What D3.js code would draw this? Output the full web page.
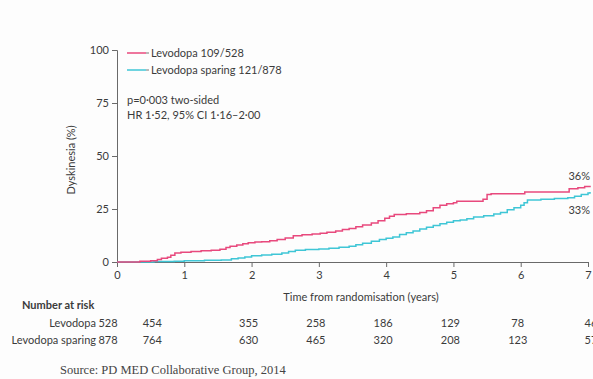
<!DOCTYPE html>
<html>
<head>
<meta charset="utf-8">
<script src="https://cdn.jsdelivr.net/npm/d3@7"></script>
<style>
  html, body { margin: 0; padding: 0; background: #fdfdfd; }
  svg { display: block; font-family: Lato, "Open Sans", sans-serif; }
</style>
</head>
<body>
<svg id="chart" width="593" height="379"></svg>
<script>
// Cumulative incidence of dyskinesia, step points (years, %)
const levodopaTime = [0, 0.34, 0.5, 0.6, 0.66, 0.75, 0.8, 0.86, 0.95, 1.1, 1.25, 1.4, 1.53, 1.62, 1.68, 1.78, 1.87, 1.95, 2.05, 2.15, 2.27, 2.38, 2.5, 2.62, 2.75, 2.9, 3.02, 3.12, 3.25, 3.35, 3.45, 3.55, 3.65, 3.78, 3.88, 3.98, 4.05, 4.12, 4.3, 4.5, 4.6, 4.7, 4.8, 4.9, 5.0, 5.05, 5.44, 5.5, 5.56, 6.06, 6.72, 6.85, 6.95, 7.03];
const levodopaValue = [0, 0.3, 0.6, 1.2, 1.8, 2.2, 3.2, 4.2, 4.6, 4.9, 5.3, 5.6, 6.0, 6.8, 7.4, 8.0, 8.6, 9.1, 9.4, 9.6, 10.0, 10.6, 11.3, 12.4, 12.8, 13.2, 13.6, 14.0, 14.6, 15.3, 15.8, 16.6, 17.4, 18.4, 19.4, 20.6, 21.6, 22.4, 22.8, 23.3, 24.2, 25.6, 26.8, 27.5, 28.0, 28.7, 29.6, 31.8, 32.2, 33.0, 34.5, 35.0, 35.6, 36.0];

const sparingTime = [0, 0.55, 0.85, 1.0, 1.3, 1.55, 1.7, 1.8, 1.9, 2.0, 2.15, 2.3, 2.45, 2.55, 2.65, 2.8, 3.0, 3.15, 3.3, 3.45, 3.55, 3.65, 3.78, 3.9, 4.0, 4.1, 4.2, 4.3, 4.4, 4.5, 4.6, 4.7, 4.8, 4.9, 5.0, 5.1, 5.2, 5.3, 5.45, 5.6, 5.7, 5.8, 5.9, 6.0, 6.05, 6.1, 6.3, 6.5, 6.7, 6.8, 6.9, 7.0, 7.03];
const sparingValue = [0, 0.2, 0.4, 0.6, 0.8, 1.0, 1.5, 1.9, 2.4, 2.9, 3.3, 3.7, 4.2, 5.0, 5.6, 5.9, 6.1, 6.5, 6.9, 7.4, 8.1, 8.9, 9.8, 10.6, 11.2, 11.8, 13.0, 13.8, 14.6, 15.6, 16.4, 17.2, 18.0, 18.8, 19.4, 19.8, 20.4, 21.2, 21.8, 22.6, 23.4, 24.6, 25.6, 26.8, 28.0, 29.2, 29.6, 30.0, 30.3, 31.0, 31.8, 32.6, 33.0];

const seriesNames = ["Levodopa 109/528", "Levodopa sparing 121/878"];
const endLabels = ["36%", "33%"];
const statLines = ["p=0·003 two-sided", "HR 1·52, 95% CI 1·16–2·00"];

const xTicks = [0, 1, 2, 3, 4, 5, 6, 7];
const yTicks = [0, 25, 50, 75, 100];

const riskGroups = ["Levodopa", "Levodopa sparing"];
const riskLevodopa = [528, 454, 355, 258, 186, 129, 78, 46];
const riskSparing = [878, 764, 630, 465, 320, 208, 123, 57];

const colors = ["#e8497d", "#3fc6d6"];
const ink = "#3b3b3b";
const axisColor = "#6a6a6a";

const svg = d3.select("#chart");

const x = d3.scaleLinear().domain([0, 7]).range([117, 588]);
const y = d3.scaleLinear().domain([0, 100]).range([262, 50]);

// Axes
const yAxis = d3.axisLeft(y).tickValues(yTicks).tickFormat(d3.format("d")).tickSize(5).tickPadding(3);
const gy = svg.append("g").attr("transform", `translate(${x(0)},0)`).call(yAxis);
const xAxis = d3.axisBottom(x).tickValues(xTicks).tickFormat(d3.format("d")).tickSize(5).tickPadding(4);
const gx = svg.append("g").attr("transform", `translate(0,${y(0)})`).call(xAxis);

[gx, gy].forEach(g => {
  g.select(".domain").attr("stroke", axisColor).attr("stroke-width", 1);
  g.selectAll(".tick line").attr("stroke", axisColor);
  g.selectAll(".tick text").attr("fill", ink).style("font-size", "11px").style("font-family", "Lato, sans-serif");
});

// Axis titles
svg.append("text")
  .attr("transform", `translate(75,${(y(0) + y(100)) / 2 + 4}) rotate(-90)`)
  .attr("text-anchor", "middle")
  .attr("fill", ink).style("font-size", "11px")
  .text("Dyskinesia (%)");

svg.append("text")
  .attr("x", 361).attr("y", 301)
  .attr("text-anchor", "middle")
  .attr("fill", ink).style("font-size", "11px")
  .text("Time from randomisation (years)");

// Curves
const line = d3.line()
  .x(d => x(d[0]))
  .y(d => y(d[1]))
  .curve(d3.curveStepAfter);

const curves = [
  d3.zip(levodopaTime, levodopaValue),
  d3.zip(sparingTime, sparingValue)
];

// draw sparing first so levodopa sits on top
[1, 0].forEach(i => {
  svg.append("path")
    .datum(curves[i])
    .attr("d", line)
    .attr("fill", "none")
    .attr("stroke", colors[i])
    .attr("stroke-width", 1.5);
});

// End-of-curve percentages
svg.append("text")
  .attr("x", 590).attr("y", y(levodopaValue[levodopaValue.length - 1]) - 6)
  .attr("text-anchor", "end").attr("fill", ink).style("font-size", "11px")
  .text(endLabels[0]);
svg.append("text")
  .attr("x", 590).attr("y", y(sparingValue[sparingValue.length - 1]) + 22)
  .attr("text-anchor", "end").attr("fill", ink).style("font-size", "11px")
  .text(endLabels[1]);

// Legend
const legend = svg.append("g").attr("transform", "translate(127,53)");
seriesNames.forEach((name, i) => {
  const row = legend.append("g").attr("transform", `translate(0,${i * 17})`);
  row.append("line").attr("x1", 0).attr("x2", 19).attr("y1", 0).attr("y2", 0)
    .attr("stroke", colors[i]).attr("stroke-width", 1.5);
  row.append("line").attr("x1", 19).attr("x2", 22).attr("y1", 0).attr("y2", 0)
    .attr("stroke", "#777").attr("stroke-width", 1);
  row.append("text").attr("x", 24).attr("y", 4)
    .attr("fill", ink).style("font-size", "11px").text(name);
});

// Test statistics
statLines.forEach((s, i) => {
  svg.append("text").attr("x", 127).attr("y", 104 + i * 15)
    .attr("fill", ink).style("font-size", "11px").text(s);
});

// Number at risk table
svg.append("text").attr("x", 22).attr("y", 309)
  .attr("fill", ink).style("font-size", "11px").style("font-weight", "bold")
  .text("Number at risk");

const riskRows = [riskLevodopa, riskSparing];
const columnShift = [-6, -29, 0, 0, 0, 0, 0, 6];
riskRows.forEach((row, r) => {
  const yy = 327 + r * 17;
  svg.append("text").attr("x", 96).attr("y", yy)
    .attr("text-anchor", "end").attr("fill", ink).style("font-size", "11px")
    .text(riskGroups[r]);
  row.forEach((n, i) => {
    svg.append("text")
      .attr("x", x(xTicks[i]) - 3 + columnShift[i]).attr("y", yy)
      .attr("text-anchor", "middle").attr("fill", ink).style("font-size", "11px")
      .text(n);
  });
});

// Source note
svg.append("text").attr("x", 60).attr("y", 374)
  .attr("fill", "#444").style("font-family", "'Liberation Serif', 'Times New Roman', serif")
  .style("font-size", "12.5px")
  .text("Source: PD MED Collaborative Group, 2014");
</script>
</body>
</html>
